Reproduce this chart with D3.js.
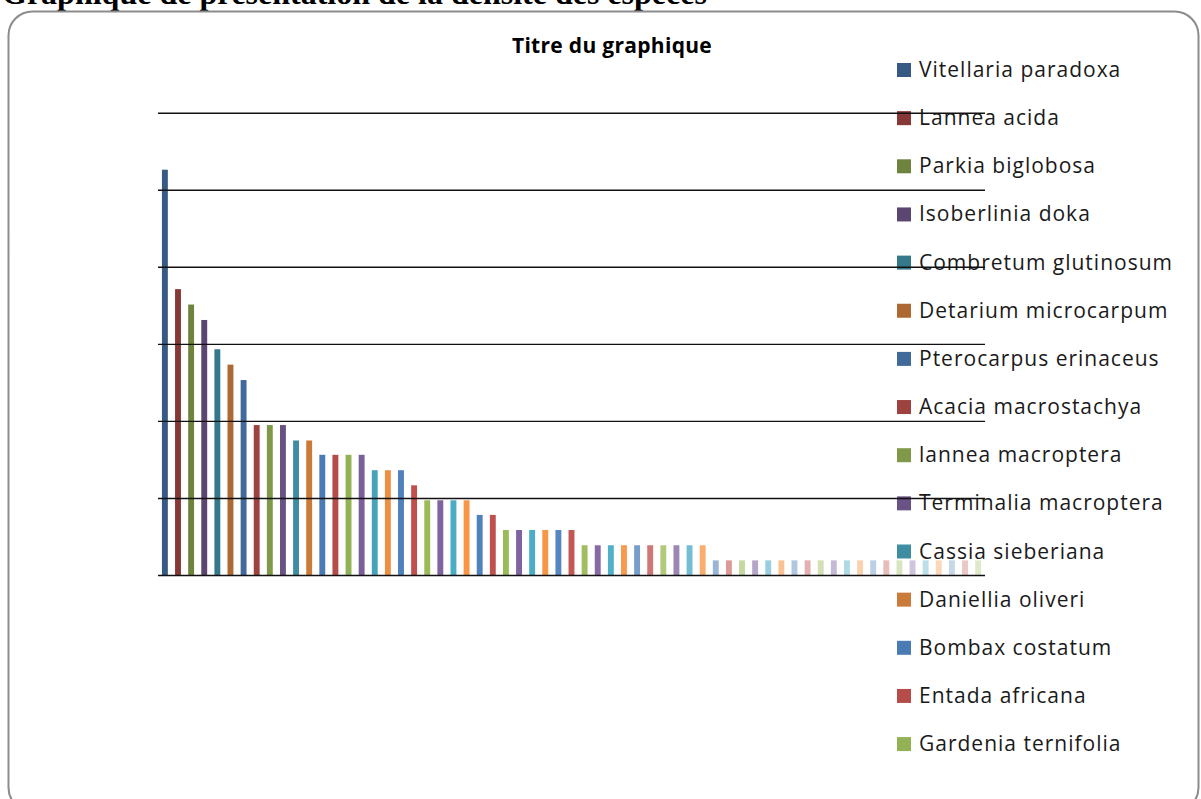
<!DOCTYPE html>
<html>
<head>
<meta charset="utf-8">
<script src="https://cdn.jsdelivr.net/npm/d3@7"></script>
<style>
body { margin: 0; background: #fff; }
svg { display: block; }
</style>
</head>
<body>
<div id="chart"></div>
<script>
// Espèces (seules les 15 premières sont lisibles dans la légende)
var species = [
    "Vitellaria paradoxa", "Lannea acida", "Parkia biglobosa", "Isoberlinia doka",
    "Combretum glutinosum", "Detarium microcarpum", "Pterocarpus erinaceus",
    "Acacia macrostachya", "lannea macroptera", "Terminalia macroptera",
    "Cassia sieberiana", "Daniellia oliveri", "Bombax costatum", "Entada africana",
    "Gardenia ternifolia"
];
// densité, une barre par espèce
var density = [
    26.3, 18.55, 17.55, 16.55, 14.65, 13.65, 12.65,
    9.73, 9.73, 9.73, 8.73, 8.73,
    7.8, 7.8, 7.8, 7.8, 6.8, 6.8, 6.8, 5.82,
    4.85, 4.85, 4.85, 4.85, 3.9, 3.9,
    2.92, 2.92, 2.92, 2.92, 2.92, 2.92,
    1.93, 1.93, 1.93, 1.93, 1.93, 1.93, 1.93, 1.93, 1.93, 1.93,
    0.95, 0.95, 0.95, 0.95, 0.95, 0.95, 0.95, 0.95, 0.95, 0.95, 0.95,
    0.95, 0.95, 0.95, 0.95, 0.95, 0.95, 0.95, 0.95, 0.95, 0.95
];
var yTicks = [0, 5, 10, 15, 20, 25, 30];

var baseColors = ["#4F81BD", "#C0504D", "#9BBB59", "#8064A2", "#4BACC6", "#F79646"];
var shades = [-0.3, -0.18, -0.05, 0, 0, 0.04, 0.22, 0.42, 0.55, 0.62, 0.68];

var fullWidth = 1201;
var fullHeight = 799;
var plot = { left: 158, right: 985, top: 112.7, bottom: 575 };

// noms des barres non lisibles dans la légende
var names = density.map(function (d, i) {
    return i < species.length ? species[i] : "Espèce " + (i + 1);
});
var rows = names.map(function (n, i) { return { name: n, value: density[i], idx: i }; });

function colorOf(i) {
    var c = baseColors[i % 6];
    var s = shades[Math.floor(i / 6)];
    return s < 0 ? d3.interpolateRgb(c, "#000")(-s) : d3.interpolateRgb(c, "#fff")(s);
}

var svg = d3.select("#chart").append("svg")
    .attr("width", fullWidth)
    .attr("height", fullHeight);

// titre du document, coupé en haut comme dans la capture
svg.append("text")
    .attr("x", 2)
    .attr("y", 4)
    .style("font-family", "'Liberation Serif', 'Times New Roman', serif")
    .style("font-weight", "bold")
    .style("font-size", "32px")
    .style("fill", "#000")
    .text("Graphique de présentation de la densité des espèces");

// cadre du graphique
svg.append("rect")
    .attr("x", 8.5)
    .attr("y", 11.5)
    .attr("width", 1190)
    .attr("height", 800)
    .attr("rx", 24)
    .attr("ry", 24)
    .style("fill", "#fff")
    .style("stroke", "#8c8c8c")
    .style("stroke-width", 2);

svg.append("text")
    .attr("x", 612)
    .attr("y", 53)
    .attr("text-anchor", "middle")
    .style("font-family", "'Open Sans', sans-serif")
    .style("font-weight", "bold")
    .style("font-size", "21px")
    .style("letter-spacing", "0.3px")
    .style("fill", "#000")
    .text("Titre du graphique");

var x = d3.scaleBand()
    .domain(rows.map(function (d) { return d.name; }))
    .range([plot.left, plot.right])
    .paddingInner(0.55)
    .paddingOuter(0.3);

var y = d3.scaleLinear()
    .domain([0, 30])
    .range([plot.bottom, plot.top]);

var chartGroup = svg.append("g").attr("class", "chartGroup");

chartGroup.selectAll("rect.bar")
    .data(rows)
    .enter().append("rect")
    .attr("class", "bar")
    .attr("x", function (d) { return x(d.name); })
    .attr("y", function (d) { return y(d.value); })
    .attr("width", x.bandwidth())
    .attr("height", function (d) { return y(0) - y(d.value); })
    .style("fill", function (d) { return colorOf(d.idx); });

// légende (les entrées qui débordent du cadre ne sont pas affichées)
var legend = svg.append("g").attr("class", "legend");
var legendRows = rows.filter(function (d) { return 76 + d.idx * 48.15 < 770; });

var item = legend.selectAll("g.item")
    .data(legendRows)
    .enter().append("g")
    .attr("class", "item")
    .attr("transform", function (d) { return "translate(897," + (77 + d.idx * 48.15) + ")"; });

item.append("rect")
    .attr("x", 0)
    .attr("y", -14)
    .attr("width", 14)
    .attr("height", 14)
    .style("fill", function (d) { return colorOf(d.idx); });

item.append("text")
    .attr("x", 22)
    .attr("y", 0)
    .style("font-family", "'Open Sans', sans-serif")
    .style("font-size", "21px")
    .style("letter-spacing", "1px")
    .style("fill", "#1a1a1a")
    .text(function (d) { return d.name; });

// quadrillage horizontal, par-dessus les barres comme dans l'original
var yAxis = d3.axisLeft(y)
    .tickValues(yTicks)
    .tickSize(-(plot.right - plot.left))
    .tickFormat("");

var grid = svg.append("g")
    .attr("class", "axis y")
    .attr("transform", "translate(" + plot.left + ",0)")
    .call(yAxis);
grid.select(".domain").remove();
grid.selectAll(".tick line")
    .style("stroke", "#111")
    .style("stroke-width", 1.4);
</script>
</body>
</html>
